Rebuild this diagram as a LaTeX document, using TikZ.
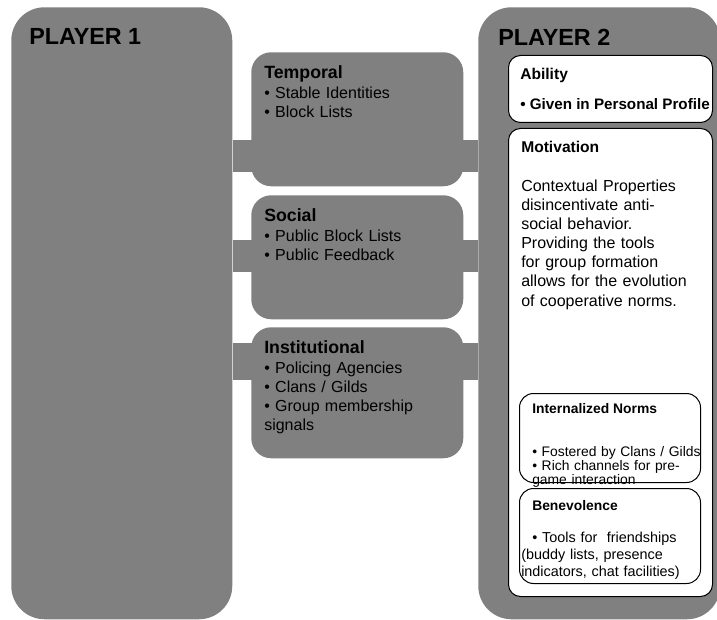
\documentclass[tikz,border=0pt]{standalone}
\usepackage{fontspec}
\setmainfont{Liberation Sans}
\usepackage{xcolor}
\usetikzlibrary{positioning,calc}
\definecolor{boxgray}{HTML}{808080}
\tikzset{
    %Define style for boxes
    playerbox/.style={
        rectangle,
        rounded corners=25pt,
        fill=boxgray,
        inner sep=0pt,
        anchor=north west,
    },
    layerbox/.style={
        rectangle,
        rounded corners=15pt,
        fill=boxgray,
        inner sep=0pt,
        anchor=north west,
        minimum width=159pt,
    },
    bandline/.style={
        draw=boxgray,
        line cap=butt,
    },
    trustbox/.style={
        rectangle,
        rounded corners=9pt,
        draw=black, line width=0.75pt,
        fill=white,
        inner sep=0pt,
        anchor=north west,
        minimum width=153pt,
    },
    subbox/.style={
        rectangle,
        rounded corners=10.5pt,
        draw=black, line width=0.75pt,
        fill=white,
        inner sep=0pt,
        anchor=north west,
        minimum width=135.75pt,
    },
    %Define style for texts
    playername/.style={
        anchor=base west,
        inner sep=0pt,
        font=\bfseries\fontsize{17.5}{17.5}\selectfont,
    },
    heading/.style={
        anchor=base west,
        inner sep=0pt,
        font=\bfseries\fontsize{#1}{#1}\selectfont,
    },
    txt/.style={
        anchor=base west,
        inner sep=0pt,
        align=left,
        text width=165pt,
    },
}
\begin{document}
\begin{tikzpicture}[x=1pt,y=1pt]
    \useasboundingbox (0,0) rectangle (537.75,-465);
    % players
    \node[playerbox, minimum width=165.75pt, minimum height=459pt] (player1) at (8.25,-5.25) {};
    \node[playerbox, minimum width=181.5pt, minimum height=459pt] (player2) at (358.5,-5.25) {};

    % bands between the players
    \coordinate (tband) at (0,-117);
    \coordinate (sband) at (0,-192);
    \coordinate (iband) at (0,-271.1);
    \draw[bandline, line width=24pt] (player1.east |- tband) -- (player2.west |- tband);
    \draw[bandline, line width=24pt] (player1.east |- sband) -- (player2.west |- sband);
    \draw[bandline, line width=27.75pt] (player1.east |- iband) -- (player2.west |- iband);

    % layers
    \node[layerbox, minimum height=100.5pt] (temporal) at (188.25,-39) {};
    \node[layerbox, minimum height=93pt] (social) at (188.25,-146.25) {};
    \node[layerbox, minimum height=98.25pt] (institutional) at (188.25,-245.25) {};

    % trust boxes
    \node[trustbox, minimum height=50.25pt] (ability) at (381,-41.25) {};
    \node[trustbox, minimum height=351pt] (motivation) at (381,-96) {};
    \node[subbox, minimum height=66.75pt] (norms) at (389.25,-294.75) {};
    \node[subbox, minimum height=71.25pt] (benevolence) at (389.25,-366) {};

    % texts
    \node[playername] (p1name) at (21.75,-33.75) {PLAYER 1};
    \node[playername] (p2name) at (373.5,-34.5) {PLAYER 2};

    \node[heading=13.3] (temporalhead) at (198,-58.7) {Temporal};
    \node[txt, font=\fontsize{12}{14.3}\selectfont] (temporaltext) at (198,-73.7)
        {• Stable Identities\\• Block Lists};
    \node[heading=13.3] (socialhead) at (198,-166.3) {Social};
    \node[txt, font=\fontsize{12}{14.3}\selectfont] (socialtext) at (198,-181.3)
        {• Public Block Lists\\• Public Feedback};
    \node[heading=13.3] (institutionalhead) at (198,-265) {Institutional};
    \node[txt, font=\fontsize{12}{14.4}\selectfont] (institutionaltext) at (198,-280)
        {• Policing Agencies\\• Clans / Gilds\\• Group membership\\signals};

    \node[heading=11.7] (abilityhead) at (390,-60) {Ability};
    \node[heading=11.4] (abilitytext) at (390,-82.5) {• Given in Personal Profile};
    \node[heading=11.7] (motivationhead) at (390.75,-114.75) {Motivation};
    \node[txt, font=\fontsize{12}{14.3}\selectfont] (motivationtext) at (390.75,-143.75)
        {Contextual Properties\\disincentivate anti-\\social behavior.\\Providing the tools\\for group formation\\allows for the evolution\\of cooperative norms.};
    \node[heading=10.4] (normshead) at (399,-309.75) {Internalized Norms};
    \node[txt, font=\fontsize{10.4}{10.5}\selectfont] (normstext) at (399,-342)
        {• Fostered by Clans / Gilds\\• Rich channels for pre-\\game interaction};
    \node[heading=10.4] (benevolencehead) at (399,-382.5) {Benevolence};
    \node[txt, font=\fontsize{10.8}{12.9}\selectfont] (benevolencetext) at (390.75,-406.75)
        {\hspace*{8.25pt}• Tools for\ \ friendships\\(buddy lists, presence\\indicators, chat facilities)};
\end{tikzpicture}
\end{document}
